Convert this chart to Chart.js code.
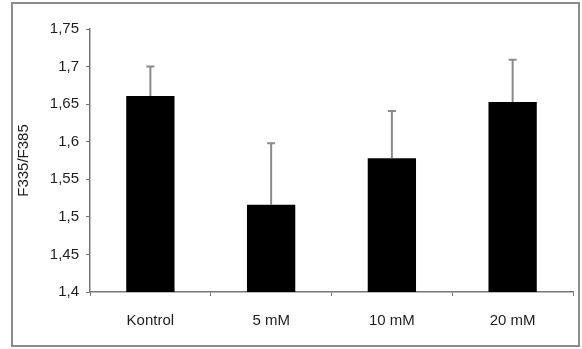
<!DOCTYPE html>
<html>
<head>
<meta charset="utf-8">
<script src="https://cdn.jsdelivr.net/npm/chart.js@4"></script>
<style>
	html, body { margin: 0; padding: 0; background: #fff; }
	#wrap { position: relative; width: 582px; height: 349px; }
</style>
</head>
<body>
<div id="wrap"><canvas id="ratioChart" width="582" height="349"></canvas></div>
<script>
// values
const groups = ['Kontrol', '5 mM', '10 mM', '20 mM'];
const ratioMeans = [1.661, 1.516, 1.578, 1.653];
const ratioErrors = [0.039, 0.082, 0.063, 0.056];
const yTicks = [1.4, 1.45, 1.5, 1.55, 1.6, 1.65, 1.7, 1.75];

// upward error bars, drawn from the bar top
const errorBars = {
	id: 'errorBars',
	afterDatasetsDraw(chart) {
		const ctx = chart.ctx;
		const meta = chart.getDatasetMeta(0);
		const y = chart.scales.y;
		ctx.save();
		ctx.strokeStyle = '#8a8a8a';
		ctx.lineWidth = 2;
		meta.data.forEach((bar, i) => {
			const top = y.getPixelForValue(ratioMeans[i] + ratioErrors[i]);
			ctx.beginPath();
			ctx.moveTo(bar.x, bar.y);
			ctx.lineTo(bar.x, top);
			ctx.moveTo(bar.x - 4, top);
			ctx.lineTo(bar.x + 4, top);
			ctx.stroke();
		});
		ctx.restore();
	}
};

// grey frame around the whole figure
const frame = {
	id: 'frame',
	beforeDraw(chart) {
		const ctx = chart.ctx;
		ctx.save();
		ctx.fillStyle = '#fff';
		ctx.fillRect(0, 0, chart.width, chart.height);
		ctx.strokeStyle = '#8c8c8c';
		ctx.lineWidth = 2;
		ctx.strokeRect(12, 3, 567, 343);
		ctx.restore();
	}
};

const ctx = document.getElementById('ratioChart').getContext('2d');
new Chart(ctx, {
	type: 'bar',
	data: {
		labels: groups,
		datasets: [{
			data: ratioMeans,
			backgroundColor: '#000',
			borderWidth: 0,
			barPercentage: 0.4,
			categoryPercentage: 1
		}]
	},
	options: {
		responsive: false,
		maintainAspectRatio: false,
		animation: false,
		layout: { padding: { left: 12, top: 29, right: 9, bottom: 0 } },
		plugins: {
			legend: { display: false },
			tooltip: { enabled: false }
		},
		scales: {
			x: {
				offset: true,
				grid: {
					offset: true,
					drawOnChartArea: false,
					drawTicks: true,
					tickLength: 4,
					tickColor: '#777'
				},
				border: { color: '#777', width: 1.5 },
				ticks: {
					color: '#1e1e1e',
					padding: 16,
					font: { family: 'Liberation Sans', size: 15 }
				},
				afterFit(scale) { scale.height = 57; }
			},
			y: {
				min: 1.4,
				max: 1.75,
				afterBuildTicks(scale) {
					scale.ticks = yTicks.map(v => ({ value: v }));
				},
				grid: {
					drawOnChartArea: false,
					drawTicks: true,
					tickLength: 4,
					tickColor: '#777'
				},
				border: { color: '#777', width: 1.5 },
				ticks: {
					color: '#1e1e1e',
					padding: 7,
					font: { family: 'Liberation Sans', size: 15 },
					callback: v => String(Math.round(v * 100) / 100).replace('.', ',')
				},
				title: {
					display: true,
					text: 'F335/F385',
					color: '#1e1e1e',
					padding: { top: 3, bottom: 0 },
					font: { family: 'Liberation Sans', size: 15 }
				},
				afterFit(scale) { scale.width = 78; }
			}
		}
	},
	plugins: [frame, errorBars]
});
</script>
</body>
</html>
